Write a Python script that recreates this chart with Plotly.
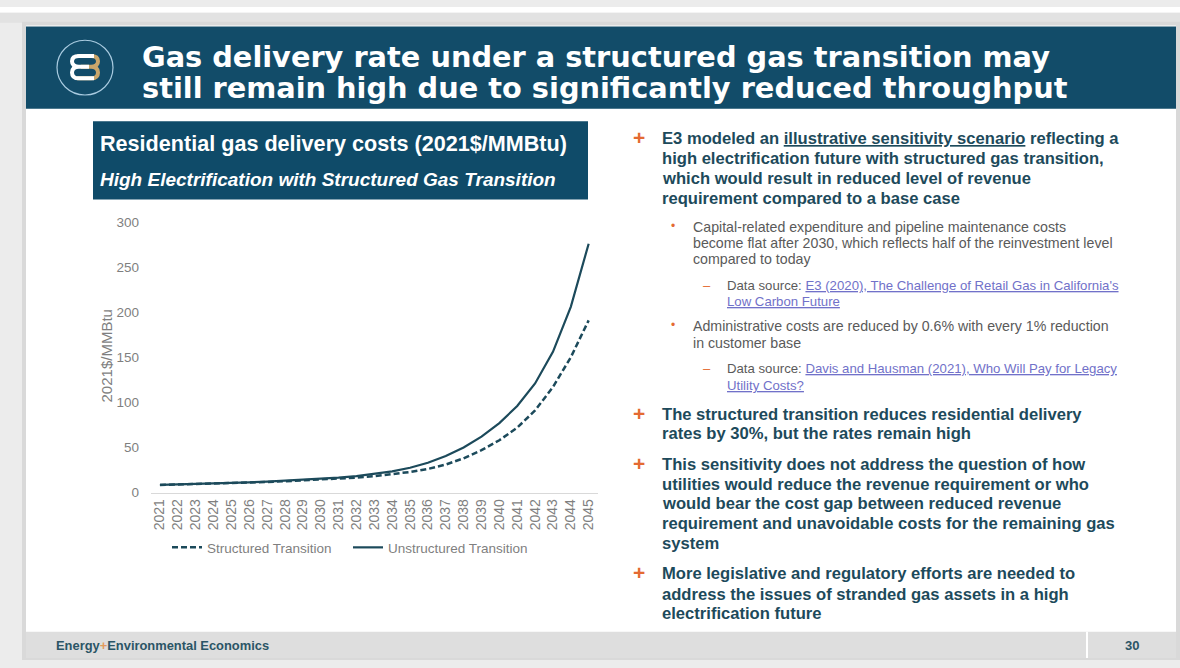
import plotly.graph_objects as go

W, H = 1180, 668

# ---------------- data ----------------
years = ["2021", "2022", "2023", "2024", "2025", "2026", "2027", "2028", "2029",
         "2030", "2031", "2032", "2033", "2034", "2035", "2036", "2037", "2038",
         "2039", "2040", "2041", "2042", "2043", "2044", "2045"]
structured = [8.5, 8.9, 9.3, 9.8, 10.4, 11.0, 11.7, 12.5, 13.4, 14.4, 15.4, 16.6,
              18.2, 20.2, 22.8, 26.2, 31.0, 38.0, 47.0, 58.0, 72.0, 91.0, 117.0,
              150.0, 191.0]
unstructured = [8.5, 8.9, 9.4, 10.0, 10.6, 11.3, 12.1, 13.0, 14.0, 15.2, 16.5, 18.2,
                20.5, 23.5, 27.5, 33.0, 40.5, 50.0, 62.0, 77.0, 96.0, 121.0, 156.0,
                206.0, 276.0]
y_ticks = [0, 50, 100, 150, 200, 250, 300]
series_names = ["Structured Transition", "Unstructured Transition"]

title_lines = ["Gas delivery rate under a structured gas transition may",
               "still remain high due to significantly reduced throughput"]
chart_title = "Residential gas delivery costs (2021$/MMBtu)"
chart_subtitle = "High Electrification with Structured Gas Transition"
y_title = "2021$/MMBtu"
footer_left = "Energy<span style='color:#e39a5c'>+</span>Environmental Economics"
page_number = "30"

LINK = "#7171c9"
U = "<span style='text-decoration:underline'>{}</span>"
UL = "<span style='text-decoration:underline;color:" + LINK + "'>{}</span>"

# (level, y_center, text) ; level 0 = '+' bullet, 1 = dot, 2 = dash, c* = continuation
right_text = [
    (0, 135, "E3 modeled an " + U.format("illustrative sensitivity scenario") + " reflecting a"),
    ("c0", 155, "high electrification future with structured gas transition,"),
    ("c0", 175.5, "which would result in reduced level of revenue"),
    ("c0", 196, "requirement compared to a base case"),
    (1, 225, "Capital-related expenditure and pipeline maintenance costs"),
    ("c1", 241.7, "become flat after 2030, which reflects half of the reinvestment level"),
    ("c1", 258.3, "compared to today"),
    (2, 285, "Data source: " + UL.format("E3 (2020), The Challenge of Retail Gas in California's")),
    ("c2", 301.7, UL.format("Low Carbon Future")),
    (1, 326.7, "Administrative costs are reduced by 0.6% with every 1% reduction"),
    ("c1", 343.3, "in customer base"),
    (2, 370, "Data source: " + UL.format("Davis and Hausman (2021), Who Will Pay for Legacy")),
    ("c2", 386.7, UL.format("Utility Costs?")),
    (0, 416.7, "The structured transition reduces residential delivery"),
    ("c0", 436.7, "rates by 30%, but the rates remain high"),
    (0, 468.3, "This sensitivity does not address the question of how"),
    ("c0", 488.3, "utilities would reduce the revenue requirement or who"),
    ("c0", 508.3, "would bear the cost gap between reduced revenue"),
    ("c0", 528.3, "requirement and unavoidable costs for the remaining gas"),
    ("c0", 549, "system"),
    (0, 580, "More legislative and regulatory efforts are needed to"),
    ("c0", 600.5, "address the issues of stranded gas assets in a high"),
    ("c0", 620.5, "electrification future"),
]

# ---------------- helpers ----------------
def fx(x):
    return x / W


def fy(y):
    return 1 - y / H


FONT = "Liberation Sans, Arial, Helvetica, sans-serif"
HEAVY = "DejaVu Sans, Liberation Sans, Arial, sans-serif"
TEAL = "#124c69"
TEXT_TEAL = "#1d4a5b"
GRAY_TXT = "#5a5a5a"
ORANGE = "#e46a32"
AXIS_GRAY = "#7f7f7f"
LINE_COL = "#1c4a5b"

fig = go.Figure()

fig.add_trace(go.Scatter(
    x=years, y=structured, name=series_names[0], mode="lines",
    line=dict(color=LINE_COL, width=2.5, dash="6px,3px"),
))
fig.add_trace(go.Scatter(
    x=years, y=unstructured, name=series_names[1], mode="lines",
    line=dict(color=LINE_COL, width=2.2),
))

shapes = []


def rect(x0, y0, x1, y1, color, layer="below"):
    shapes.append(dict(type="rect", xref="paper", yref="paper",
                       x0=fx(x0), x1=fx(x1), y0=fy(y1), y1=fy(y0),
                       fillcolor=color, layer=layer, line=dict(width=0)))


# page background / slide
rect(0, 0, 1180, 6, "#ffffff")
rect(0, 6, 1180, 16, "#e2e2e2")
rect(22, 15, 1180, 668, "#d9d9d9")
rect(26, 19, 1176, 666, "#ffffff")
# header band
rect(26, 20, 1176, 104, TEAL)
# chart title box
rect(93, 117, 588, 197, "#0f4b69")
# footer band
rect(26, 639, 1176, 666, "#dedede")
shapes.append(dict(type="line", xref="paper", yref="paper",
                   x0=fx(1087), x1=fx(1087), y0=fy(639), y1=fy(666),
                   line=dict(color="#ffffff", width=2), layer="below"))

# logo
cx, cy, r = 85, 62, 28
shapes.append(dict(type="circle", xref="paper", yref="paper",
                   x0=fx(cx - r), x1=fx(cx + r), y0=fy(cy + r), y1=fy(cy - r),
                   line=dict(color="#a9cbe0", width=1.2), layer="above"))


def path(pts_cmds):
    out = []
    for item in pts_cmds:
        if isinstance(item, str):
            out.append(item)
        else:
            out.append("{:.5f},{:.5f}".format(fx(item[0]), fy(item[1])))
    return " ".join(out)


gold_path = path(["M", (77, 50), "L", (91, 50), "Q", (98, 50), (98, 55.5), "Q", (98, 61), (91, 61),
                  "L", (81, 61), "M", (91, 61), "Q", (98, 61), (98, 67), "Q", (98, 73), (91, 73),
                  "L", (77, 73)])
white_path = path(["M", (94, 50), "L", (79, 50), "Q", (72, 50), (72, 55.5), "Q", (72, 61), (79, 61),
                   "L", (89, 61), "M", (79, 61), "Q", (72, 61), (72, 67), "Q", (72, 73), (79, 73),
                   "L", (94, 73)])
shapes.append(dict(type="path", xref="paper", yref="paper", path=gold_path,
                   line=dict(color="#c9a66b", width=4), layer="above"))
shapes.append(dict(type="path", xref="paper", yref="paper", path=white_path,
                   line=dict(color="#ffffff", width=4), layer="above"))

annotations = []


def ann(x, y, text, size, color, bold=False, italic=False, xanchor="left",
        family=FONT, angle=0):
    t = text
    if bold:
        t = "<b>" + t + "</b>"
    if italic:
        t = "<i>" + t + "</i>"
    annotations.append(dict(
        xref="paper", yref="paper", x=fx(x), y=fy(y), text=t, showarrow=False,
        xanchor=xanchor, yanchor="middle", textangle=angle,
        font=dict(family=family, size=size, color=color), borderpad=0))


# header title
ann(141, 51.5, title_lines[0], 28.8, "#ffffff", bold=True, family=HEAVY)
ann(141, 83.3, title_lines[1], 28.8, "#ffffff", bold=True, family=HEAVY)

# chart title box texts
ann(99, 140, chart_title, 21.6, "#ffffff", bold=True)
ann(99, 176.7, chart_subtitle, 19, "#ffffff", bold=True, italic=True)

# y axis title
ann(106.5, 357, y_title, 15, AXIS_GRAY, xanchor="center", angle=-90)

# right column
for level, y, txt in right_text:
    if level == 0 or level == "c0":
        if level == 0:
            ann(639, y - 1, "+", 21, ORANGE, bold=True, xanchor="center")
        ann(661, y, txt, 16.6, TEXT_TEAL, bold=True)
    elif level == 1 or level == "c1":
        if level == 1:
            ann(673, y - 1, "•", 12, ORANGE, xanchor="center")
        ann(692, y, txt, 14.2, GRAY_TXT)
    else:
        if level == 2:
            ann(707, y, "–", 13, ORANGE, xanchor="center")
        ann(726, y, txt, 13.2, GRAY_TXT)

# footer
ann(55, 653, footer_left, 12.9, "#2b5566", bold=True)
ann(1132, 653, page_number, 13, "#2b5566", bold=True, xanchor="center")

fig.update_layout(
    width=W, height=H, autosize=False,
    margin=dict(l=0, r=0, t=0, b=0),
    paper_bgcolor="#ececec", plot_bgcolor="rgba(0,0,0,0)",
    font=dict(family=FONT, color=AXIS_GRAY, size=13.5),
    shapes=shapes, annotations=annotations,
    showlegend=True,
    legend=dict(orientation="h", x=fx(167), y=fy(553), xanchor="left", yanchor="middle",
                bgcolor="rgba(0,0,0,0)", font=dict(size=13.5, color=AXIS_GRAY),
                traceorder="normal", itemwidth=30,
                entrywidth=136, entrywidthmode="pixels"),
    xaxis=dict(type="category", range=[-0.5, 24.5], domain=[fx(151), fx(597.6)],
               showline=True, linecolor="#d9d9d9", linewidth=1, ticks="",
               tickangle=-90, tickfont=dict(size=14, color=AXIS_GRAY),
               showgrid=False, zeroline=False, fixedrange=True),
    yaxis=dict(range=[0, 300], domain=[fy(496.7), fy(220)], tickvals=y_ticks,
               showgrid=False, showline=False, zeroline=False, ticks="",
               tickfont=dict(size=13.5, color=AXIS_GRAY), ticklabelstandoff=11,
               fixedrange=True),
)

fig.write_html(
    "out.html",
    config={"displayModeBar": False},
    post_script="document.body.style.margin='0';document.body.style.overflow='hidden';",
)
